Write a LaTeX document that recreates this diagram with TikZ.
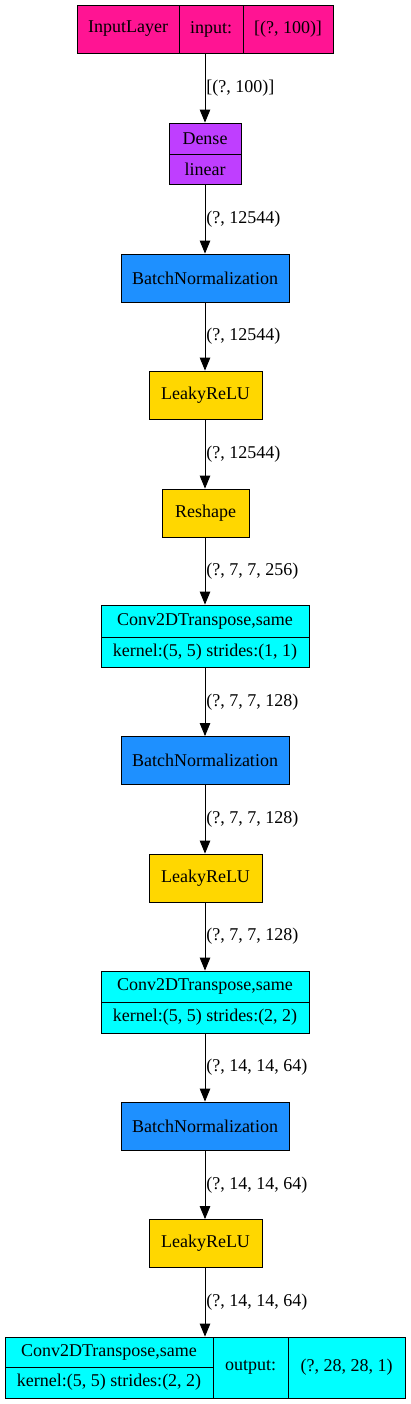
\documentclass[tikz,border=0pt]{standalone}
\usepackage{fontspec}
\setmainfont{Liberation Serif}
\usepackage{tikz}
\usetikzlibrary{arrows.meta}
\usepackage{xcolor}

\definecolor{inpink}{HTML}{FF1493}
\definecolor{densepurple}{HTML}{BF3EFF}
\definecolor{bnblue}{HTML}{1E90FF}
\definecolor{actgold}{HTML}{FFD700}
\definecolor{convcyan}{HTML}{00FFFF}

\tikzset{
  layercell/.style={draw=black, line width=0.8pt, inner sep=0pt, font=\fontsize{18}{21}\selectfont},
  layerframe/.style={draw=black, line width=0.8pt, inner sep=0pt},
  flow/.style={-{Triangle[length=13pt,width=10.5pt]}, line width=0.9pt},
  dimlabel/.style={anchor=west, inner sep=1pt, font=\fontsize{18}{21}\selectfont},
}

\begin{document}
\begin{tikzpicture}[x=1pt, y=-1pt]
          \useasboundingbox (0,0) rectangle (411,1404);
          % input layer
          \node[layercell, fill=inpink, minimum width=102, minimum height=48] (in-a) at (128,29) {InputLayer};
          \node[layercell, fill=inpink, minimum width=64, minimum height=48] (in-b) at (211,29) {input:};
          \node[layercell, fill=inpink, minimum width=90, minimum height=48] (in-c) at (288,29) {[(?, 100)]};
          \node[layerframe, minimum width=256, minimum height=48] (input) at (205,29) {};
          % dense
          \node[layercell, fill=densepurple, minimum width=72, minimum height=31] (dense-a) at (205,138.5) {Dense};
          \node[layercell, fill=densepurple, minimum width=72, minimum height=30] (dense-b) at (205,169) {linear};
          \node[layerframe, minimum width=72, minimum height=61] (dense) at (205,153.5) {};
          % block 1
          \node[layercell, fill=bnblue, minimum width=168, minimum height=48] (bn1) at (205,278) {BatchNormalization};
          \node[layercell, fill=actgold, minimum width=113, minimum height=48] (lrelu1) at (205.5,395) {LeakyReLU};
          \node[layercell, fill=actgold, minimum width=87, minimum height=48] (reshape) at (205.5,513) {Reshape};
          % conv 1
          \node[layercell, fill=convcyan, minimum width=208, minimum height=32] (conv1-a) at (205,621) {Conv2DTranspose,same};
          \node[layercell, fill=convcyan, minimum width=208, minimum height=30] (conv1-b) at (205,652) {kernel:(5, 5) strides:(1, 1)};
          \node[layerframe, minimum width=208, minimum height=62] (conv1) at (205,636) {};
          \node[layercell, fill=bnblue, minimum width=168, minimum height=48] (bn2) at (205,760.5) {BatchNormalization};
          \node[layercell, fill=actgold, minimum width=113, minimum height=48] (lrelu2) at (205.5,878) {LeakyReLU};
          % conv 2
          \node[layercell, fill=convcyan, minimum width=208, minimum height=31] (conv2-a) at (205,986.5) {Conv2DTranspose,same};
          \node[layercell, fill=convcyan, minimum width=208, minimum height=31] (conv2-b) at (205,1017.5) {kernel:(5, 5) strides:(2, 2)};
          \node[layerframe, minimum width=208, minimum height=62] (conv2) at (205,1002) {};
          \node[layercell, fill=bnblue, minimum width=168, minimum height=48] (bn3) at (205,1126) {BatchNormalization};
          \node[layercell, fill=actgold, minimum width=113, minimum height=48] (lrelu3) at (205.5,1243.5) {LeakyReLU};
          % output layer
          \node[layercell, fill=convcyan, minimum width=208, minimum height=30] (out-a) at (109,1352) {Conv2DTranspose,same};
          \node[layercell, fill=convcyan, minimum width=208, minimum height=31] (out-b) at (109,1382.5) {kernel:(5, 5) strides:(2, 2)};
          \node[layercell, fill=convcyan, minimum width=75, minimum height=61] (out-c) at (250.5,1367.5) {output:};
          \node[layercell, fill=convcyan, minimum width=117, minimum height=61] (out-d) at (346.5,1367.5) {(?, 28, 28, 1)};
          \node[layerframe, minimum width=400, minimum height=61] (output) at (205,1367.5) {};

          \draw[flow] (input) -- (dense) node[dimlabel, midway] {[(?, 100)]};
          \draw[flow] (dense) -- (bn1) node[dimlabel, midway] {(?, 12544)};
          \draw[flow] (bn1) -- (lrelu1.north -| bn1) node[dimlabel, midway] {(?, 12544)};
          \draw[flow] (lrelu1.south -| bn1) -- (reshape.north -| bn1) node[dimlabel, midway] {(?, 12544)};
          \draw[flow] (reshape.south -| bn1) -- (conv1) node[dimlabel, midway] {(?, 7, 7, 256)};
          \draw[flow] (conv1) -- (bn2) node[dimlabel, midway] {(?, 7, 7, 128)};
          \draw[flow] (bn2) -- (lrelu2.north -| bn2) node[dimlabel, midway] {(?, 7, 7, 128)};
          \draw[flow] (lrelu2.south -| bn2) -- (conv2) node[dimlabel, midway] {(?, 7, 7, 128)};
          \draw[flow] (conv2) -- (bn3) node[dimlabel, midway] {(?, 14, 14, 64)};
          \draw[flow] (bn3) -- (lrelu3.north -| bn3) node[dimlabel, midway] {(?, 14, 14, 64)};
          \draw[flow] (lrelu3.south -| bn3) -- (output) node[dimlabel, midway] {(?, 14, 14, 64)};
        \end{tikzpicture}
\end{document}
